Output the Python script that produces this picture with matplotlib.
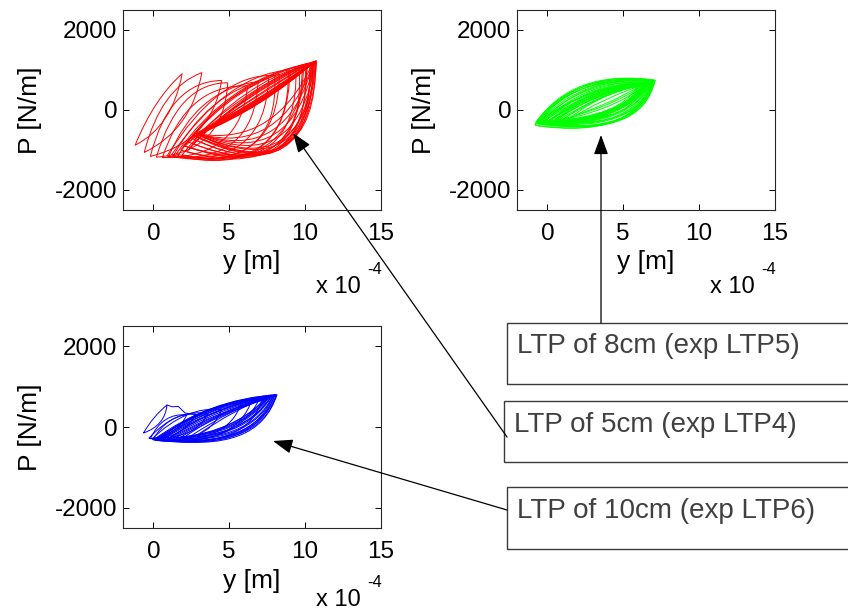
import matplotlib.pyplot as plt
from matplotlib.path import Path
from matplotlib.patches import PathPatch, Rectangle, FancyArrowPatch

plt.rcParams['font.family'] = ['Liberation Sans', 'DejaVu Sans']
plt.rcParams['axes.unicode_minus'] = False

# y in units of 1e-4 m, P in N/m
# one hysteresis cycle per entry: left tip (a), right tip (b),
# a point on the upper branch (u) and on the lower branch (l)

# LTP of 5cm (exp LTP4)
red_ax = [-1.2, -0.6, -0.2, 0.2, 0.6, 1.0, 1.3, 1.6, 1.9, 2.2, 2.4, 2.6, 2.7, 2.85, 2.9, 2.95, 3.0, 3.0, 3.05, 1.5, 2.0,
          2.5, 2.7, 2.3, 2.1, 2.6, 2.8, 1.8, 1.2, 0.9, 3.0, 3.0]
red_ay = [-880, -1060, -1160, -1180, -1190, -1170, -1160, -1150, -1120, -1040, -940, -840, -740, -650, -600, -610, -600, -590, -600, -1100, -900,
          -700, -650, -800, -900, -620, -600, -1000, -1120, -1150, -600, -600]
red_bx = [1.9, 3.2, 4.5, 4.9, 6.2, 6.9, 7.6, 8.3, 8.9, 9.4, 9.8, 10.1, 10.4, 10.6, 10.75, 10.7, 10.65, 10.6, 10.55, 10.2, 10.5,
          10.3, 10.5, 10.0, 9.6, 10.7, 10.7, 9.9, 9.0, 8.0, 10.6, 10.55]
red_by = [910, 935, 740, 680, 600, 710, 800, 900, 980, 1050, 1100, 1150, 1190, 1215, 1235, 1225, 1215, 1210, 1200, 1160, 1200,
          1170, 1200, 1120, 1080, 1230, 1220, 1120, 1000, 860, 1215, 1205]
red_ux = [0.2, 0.9, 1.6, 2.1, 2.8, 3.4, 4.0, 4.6, 5.2, 5.7, 6.0, 6.3, 6.5, 6.7, 7.0, 6.9, 6.9, 7.0, 7.0, 5.4, 5.9,
          6.4, 6.6, 6.1, 5.8, 6.8, 6.9, 5.6, 5.0, 4.4, 6.9, 6.9]
red_uy = [150, 250, 250, 220, 180, 150, 120, 130, 150, 190, 250, 300, 280, 220, 200, 200, 190, 180, 180, 400, 450,
          230, 220, 250, 260, 250, 240, 420, 420, 400, 220, 220]
red_lx = [0.8, 1.9, 3.0, 3.6, 4.6, 5.3, 5.9, 6.6, 7.2, 7.7, 8.0, 8.3, 8.4, 8.5, 8.6, 8.4, 8.2, 8.0, 7.8, 7.4, 8.2,
          8.5, 8.6, 8.3, 8.0, 8.7, 8.5, 7.8, 7.0, 6.4, 7.6, 7.4]
red_ly = [-200, -280, -500, -650, -750, -800, -820, -850, -870, -880, -900, -920, -920, -900, -900, -760, -680, -600, -520, -900, -850,
          -950, -930, -940, -960, -870, -800, -950, -950, -900, -420, -300]

# LTP of 8cm (exp LTP5)
green_ax = [-0.75, -0.7, -0.6, -0.5, -0.4, -0.3, -0.2, -0.1, 0.0, 0.1, 0.2, 0.35, 0.5, -0.65, -0.55, -0.45, 0.0, 0.3,
            -0.3, 0.0, 0.3, -0.5, 0.6, -0.2, 0.8, 1.2, -0.8, -0.7, -0.8, -0.6, 0.5, 1.0]
green_ay = [-300, -330, -320, -300, -340, -320, -300, -330, -310, -290, -320, -300, -280, -280, -350, -260, -340, -330,
            -300, -310, -290, -320, -280, -330, -300, -280, -340, -310, -380, -400, -350, -330]
green_bx = [7.1, 7.0, 6.9, 6.8, 6.7, 6.6, 6.5, 6.4, 6.3, 6.2, 6.1, 6.0, 5.9, 6.95, 7.05, 6.75, 6.55, 6.25,
            6.6, 6.7, 6.5, 6.9, 6.2, 7.0, 6.8, 6.9, 7.1, 6.9, 7.0, 6.9, 6.5, 6.8]
green_by = [740, 720, 705, 690, 680, 660, 650, 640, 620, 610, 600, 580, 570, 730, 745, 670, 640, 600,
            680, 690, 660, 710, 620, 730, 700, 720, 745, 720, 730, 720, 680, 700]
green_ux = [2.5, 2.6, 2.7, 2.8, 2.9, 3.0, 3.0, 3.1, 3.2, 3.2, 3.3, 3.3, 3.4, 2.4, 2.5, 2.9, 3.1, 3.3,
            3.0, 3.1, 3.3, 2.9, 3.4, 3.3, 3.6, 4.0, 2.4, 2.4, 2.5, 2.7, 3.6, 3.8]
green_uy = [600, 570, 540, 510, 490, 470, 450, 430, 420, 400, 390, 370, 350, 540, 610, 420, 380, 330,
            380, 330, 310, 420, 280, 360, 330, 380, 620, 590, 560, 520, 300, 250]
green_lx = [4.6, 4.6, 4.5, 4.5, 4.4, 4.4, 4.3, 4.3, 4.2, 4.2, 4.1, 4.1, 4.0, 4.7, 4.8, 4.5, 4.3, 4.2,
            4.0, 3.8, 3.7, 4.2, 3.6, 4.3, 4.3, 4.5, 4.7, 4.5, 4.5, 4.4, 4.0, 4.4]
green_ly = [-250, -240, -200, -170, -180, -130, -110, -120, -80, -50, -60, -20, 0, -150, -260, -80, -40, 0,
            0, 60, 100, -60, 120, -20, 30, 50, -260, -270, -280, -280, -100, 0]

# LTP of 10cm (exp LTP6)
blue_ax = [0.0, 0.15, 0.3, 0.5, 0.7, 0.9, 1.1, 1.3, 1.5, 1.8, 0.4, 0.2, 0.1, -0.1, -0.3, -0.65,
           0.3, 0.6, 1.0, 2.0, 2.4, 2.8, 0.5, 0.0, -0.2]
blue_ay = [-320, -300, -315, -300, -290, -300, -280, -270, -260, -250, -310, -320, -330, -300, -280, -150,
           -300, -310, -290, -260, -240, -220, -300, -300, -290]
blue_bx = [8.15, 8.1, 8.0, 7.9, 7.85, 7.75, 7.7, 7.6, 7.5, 7.4, 5.8, 6.5, 7.2, 4.5, 3.6, 0.9,
           8.1, 8.0, 7.9, 7.8, 7.6, 7.4, 7.0, 2.8, 2.2]
blue_by = [800, 790, 775, 770, 760, 745, 730, 720, 700, 690, 600, 680, 740, 430, 330, 545,
           800, 790, 770, 760, 740, 720, 700, 320, 300]
blue_ux = [3.9, 4.0, 4.1, 4.2, 4.2, 4.3, 4.4, 4.4, 4.5, 4.6, 3.0, 3.3, 3.6, 2.2, 1.6, 0.05,
           4.0, 4.1, 4.3, 5.0, 5.2, 5.3, 3.7, 1.2, 0.8]
blue_uy = [470, 440, 410, 390, 370, 350, 330, 310, 300, 290, 330, 370, 410, 300, 250, 230,
           460, 430, 400, 400, 380, 360, 400, 180, 180]
blue_lx = [5.5, 5.4, 5.4, 5.3, 5.3, 5.2, 5.2, 5.1, 5.1, 5.0, 4.0, 4.4, 5.0, 2.9, 2.2, 0.45,
           5.6, 5.5, 5.5, 5.4, 5.4, 5.5, 4.6, 1.7, 1.3]
blue_ly = [-200, -180, -150, -120, -90, -60, -30, 0, 30, 60, -150, -170, -190, -200, -150, 120,
           -220, -190, -150, 0, 100, 160, -150, -120, -100]
blue_start_x = [0.9, 1.25, 1.65, 2.09, 2.86, 3.6]
blue_start_y = [545, 500, 509, 346, 304, 290]

x_ticks = [0, 5, 10, 15]
y_ticks = [-2000, 0, 2000]
labels = ['LTP of 8cm (exp LTP5)', 'LTP of 5cm (exp LTP4)', 'LTP of 10cm (exp LTP6)']


def draw_loops(ax, a_x, a_y, b_x, b_y, u_x, u_y, l_x, l_y, color):
    for i in range(len(a_x)):
        mx = (a_x[i] + b_x[i]) / 2
        my = (a_y[i] + b_y[i]) / 2
        # quadratic control points so each branch passes through u / l
        cu = (2 * u_x[i] - mx, 2 * u_y[i] - my)
        cl = (2 * l_x[i] - mx, 2 * l_y[i] - my)
        verts = [(a_x[i], a_y[i]), cu, (b_x[i], b_y[i]), cl, (a_x[i], a_y[i])]
        codes = [Path.MOVETO, Path.CURVE3, Path.CURVE3, Path.CURVE3, Path.CURVE3]
        ax.add_patch(PathPatch(Path(verts, codes), fill=False, edgecolor=color, lw=0.7))


def style_axes(ax, xt_y):
    ax.set_xlim(-2, 15)
    ax.set_ylim(-2500, 2500)
    ax.set_xticks(x_ticks)
    ax.set_yticks(y_ticks)
    ax.tick_params(direction='in', length=4, width=0.7, top=True, right=True,
                   labelsize=17.5, colors='black')
    ax.tick_params(axis='x', pad=9.5)
    ax.tick_params(axis='y', pad=4)
    for s in ax.spines.values():
        s.set_color('#262626')
        s.set_linewidth(0.8)
    ax.text(0.5, -0.26, 'y [m]', transform=ax.transAxes, ha='center', va='center', fontsize=19)
    ax.text(-0.36, 0.5, 'P [N/m]', transform=ax.transAxes, ha='center', va='center',
            rotation=90, fontsize=19)
    ax.text(0.75, xt_y, 'x 10', transform=ax.transAxes, ha='left', va='center', fontsize=17)
    ax.text(0.946, xt_y + 0.085, '-4', transform=ax.transAxes, ha='left', va='center', fontsize=12)


fig = plt.figure(figsize=(8.48, 6.12), dpi=100)
W, H = 848.0, 612.0

ax_red = fig.add_axes([123 / W, 1 - 210 / H, 258 / W, 200 / H])
ax_green = fig.add_axes([517 / W, 1 - 210 / H, 258 / W, 200 / H])
ax_blue = fig.add_axes([123 / W, 1 - 528 / H, 258 / W, 202 / H])

draw_loops(ax_red, red_ax, red_ay, red_bx, red_by, red_ux, red_uy, red_lx, red_ly, '#ff0000')
draw_loops(ax_green, green_ax, green_ay, green_bx, green_by, green_ux, green_uy, green_lx, green_ly, '#00ff00')
draw_loops(ax_blue, blue_ax, blue_ay, blue_bx, blue_by, blue_ux, blue_uy, blue_lx, blue_ly, '#0000ff')
ax_blue.plot(blue_start_x, blue_start_y, color='#0000ff', lw=0.7)

style_axes(ax_red, -0.385)
style_axes(ax_green, -0.385)
style_axes(ax_blue, -0.355)

# text boxes (run off the right edge like the original)
boxes = [(507, 323, 384), (504, 401, 462), (507, 487, 549)]
text_pos = [(517, 353), (514, 432), (517, 518)]
for (x0, top, bot), (tx, ty), lab in zip(boxes, text_pos, labels):
    fig.add_artist(Rectangle((x0 / W, 1 - bot / H), 400 / W, (bot - top) / H,
                             transform=fig.transFigure, fill=False,
                             edgecolor='#3a3a3a', lw=1.0))
    fig.text(tx / W, 1 - ty / H, lab, ha='left', va='baseline', fontsize=20, color='#404040')

# arrows from the boxes to the curves
arrows = [((601, 323), (601, 135)), ((507, 437), (293, 133)), ((507, 510), (273, 441))]
for (x0, y0), (x1, y1) in arrows:
    fig.add_artist(FancyArrowPatch((x0 / W, 1 - y0 / H), (x1 / W, 1 - y1 / H),
                                   transform=fig.transFigure,
                                   arrowstyle='-|>,head_length=0.6,head_width=0.22',
                                   mutation_scale=20, color='black', lw=0.9,
                                   shrinkA=0, shrinkB=0))

fig.savefig('out.png', dpi=100)
